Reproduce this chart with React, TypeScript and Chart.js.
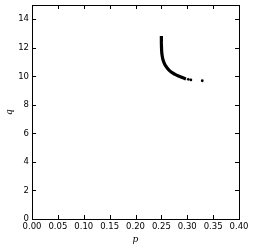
import React, { useEffect, useRef } from "react";
import { Chart, registerables } from "chart.js";

Chart.register(...registerables);

const curveP = [0.2500, 0.2500, 0.2502, 0.2506, 0.2515, 0.2530, 0.2557, 0.2590, 0.2634, 0.2690, 0.2763, 0.2830, 0.2890, 0.2950, 0.2975];
const curveQ = [12.82, 12.40, 12.08, 11.75, 11.45, 11.18, 10.91, 10.69, 10.49, 10.30, 10.14, 10.02, 9.93, 9.85, 9.82];
const dotP = [0.302, 0.307, 0.329];
const dotQ = [9.79, 9.75, 9.69];
const xTicks = [0, 0.05, 0.1, 0.15, 0.2, 0.25, 0.3, 0.35, 0.4];
const yTicks = [0, 2, 4, 6, 8, 10, 12, 14];

const framePlugin = {
  id: "frame",
  afterDatasetsDraw(chart: any) {
    const { ctx, chartArea: a, scales } = chart;
    ctx.save();
    ctx.strokeStyle = "#000";
    ctx.lineWidth = 1;
    const L = 4;
    ctx.beginPath();
    for (const v of xTicks) {
      const x = Math.round(scales.x.getPixelForValue(v)) + 0.5;
      ctx.moveTo(x, a.bottom); ctx.lineTo(x, a.bottom - L);
      ctx.moveTo(x, a.top); ctx.lineTo(x, a.top + L);
    }
    for (const v of yTicks) {
      const y = Math.round(scales.y.getPixelForValue(v)) + 0.5;
      ctx.moveTo(a.left, y); ctx.lineTo(a.left + L, y);
      ctx.moveTo(a.right, y); ctx.lineTo(a.right - L, y);
    }
    ctx.stroke();
    ctx.strokeRect(Math.round(a.left) + 0.5, Math.round(a.top) + 0.5, Math.round(a.right - a.left), Math.round(a.bottom - a.top));
    ctx.restore();
  },
};

export default function App() {
  const ref = useRef<HTMLCanvasElement>(null);
  useEffect(() => {
    document.body.style.margin = "0";
    const chart = new Chart(ref.current!, {
      type: "scatter",
      data: {
        datasets: [
          {
            data: curveP.map((p, i) => ({ x: p, y: curveQ[i] })),
            showLine: true,
            borderColor: "#000",
            borderWidth: 3.2,
            pointRadius: 0,
            cubicInterpolationMode: "monotone",
          } as any,
          {
            data: dotP.map((p, i) => ({ x: p, y: dotQ[i] })),
            backgroundColor: "#000",
            borderColor: "#000",
            pointRadius: 1.4,
            borderWidth: 0,
          },
        ],
      },
      options: {
        animation: false,
        responsive: false,
        plugins: { legend: { display: false }, tooltip: { enabled: false } },
        layout: { padding: { left: 0, right: 16, top: 0, bottom: 0 } },
        scales: {
          x: {
            type: "linear",
            min: 0,
            max: 0.4,
            afterFit: (s: any) => { s.height = 30; },
            afterBuildTicks: (s: any) => { s.ticks = xTicks.map((v) => ({ value: v })); },
            grid: { display: false, drawTicks: false },
            border: { display: false },
            ticks: {
              padding: 3,
              color: "#000",
              font: { family: "DejaVu Sans", size: 8.5 },
              callback: (v: any) => Number(v).toFixed(2),
              maxRotation: 0,
            },
            title: {
              display: true,
              text: "p",
              color: "#000",
              font: { family: "DejaVu Serif", size: 9, style: "italic" },
              padding: { top: 0, bottom: 4 },
            },
          },
          y: {
            type: "linear",
            min: 0,
            max: 15,
            afterFit: (s: any) => { s.width = 32; s.paddingTop = 5; },
            afterBuildTicks: (s: any) => { s.ticks = yTicks.map((v) => ({ value: v })); },
            grid: { display: false, drawTicks: false },
            border: { display: false },
            ticks: {
              padding: 3,
              color: "#000",
              font: { family: "DejaVu Sans", size: 8.5 },
              callback: (v: any) => String(v),
            },
            title: {
              display: true,
              text: "q",
              color: "#000",
              font: { family: "DejaVu Serif", size: 9, style: "italic" },
              padding: { top: 4.5, bottom: 0 },
            },
          },
        },
      },
      plugins: [framePlugin],
    });
    return () => chart.destroy();
  }, []);
  return (
    <div style={{ position: "absolute", left: 0, top: 0, width: 255, height: 249 }}>
      <canvas ref={ref} width={255} height={249} style={{ width: 255, height: 249, display: "block" }} />
    </div>
  );
}
